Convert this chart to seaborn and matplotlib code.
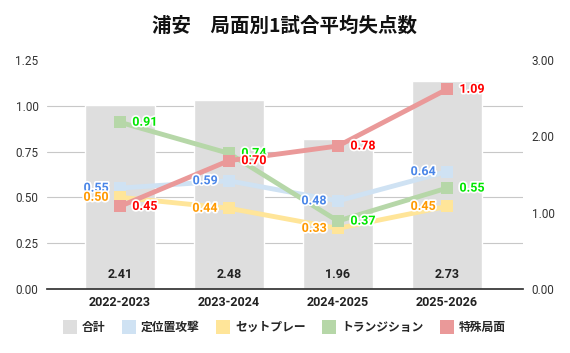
import numpy as np
import pandas as pd
import matplotlib
matplotlib.use("Agg")
import matplotlib.pyplot as plt
import matplotlib.patheffects as pe
from matplotlib.lines import Line2D
import seaborn as sns

# --- DATA ---
SEASONS = ["2022-2023", "2023-2024", "2024-2025", "2025-2026"]
TOTAL = [2.41, 2.48, 1.96, 2.73]
POSITIONAL = [0.55, 0.59, 0.48, 0.64]
SET_PIECE = [0.50, 0.44, 0.33, 0.45]
TRANSITION = [0.91, 0.74, 0.37, 0.55]
SPECIAL = [0.45, 0.70, 0.78, 1.09]

SERIES_NAMES = ["定位置攻撃", "セットプレー", "トランジション", "特殊局面"]
SERIES_VALUES = [POSITIONAL, SET_PIECE, TRANSITION, SPECIAL]
LINE_COLORS = ["#cfe2f3", "#ffe599", "#b6d7a8", "#ea9999"]
LABEL_COLORS = ["#4a86e8", "#ff9900", "#00e600", "#ff0000"]
LABEL_SIDE = ["left", "left", "right", "right"]
BAR_COLOR = "#dedede"

sns.set_theme(style="white")
plt.rcParams["font.family"] = ["Roboto", "Noto Sans CJK JP", "DejaVu Sans"]

fig = plt.figure(figsize=(5.7, 3.53), dpi=100)
ax = fig.add_axes([0.082, 0.182, 0.836, 0.648])

# bars (合計) on the right-hand scale
bars_df = pd.DataFrame({"season": SEASONS, "total": TOTAL})
sns.barplot(data=bars_df, x="season", y="total", color=BAR_COLOR, width=0.64,
            saturation=1, ax=ax, zorder=2)
ax.set_ylim(0, 3.0)
ax.set_xlim(-0.67, 3.7)
ax.set_yticks(np.linspace(0, 3, 6), minor=True)
ax.grid(True, which="minor", axis="y", color="#c8c8c8", linewidth=0.8, zorder=0)
ax.grid(False, which="major")
ax.set_axisbelow(True)
for i, v in enumerate(TOTAL):
    ax.text(i, 0.1, f"{v:.2f}", ha="center", va="bottom", fontsize=9,
            fontweight="bold", color="#222222", zorder=3)

# lines on the left-hand scale
ax2 = ax.twinx()
long_df = pd.DataFrame({
    "season": SEASONS * len(SERIES_NAMES),
    "series": [n for n in SERIES_NAMES for _ in SEASONS],
    "value": [v for vals in SERIES_VALUES for v in vals],
})
sns.lineplot(data=long_df, x="season", y="value", hue="series",
             hue_order=SERIES_NAMES, palette=LINE_COLORS, marker="s",
             markersize=8, markeredgewidth=0, linewidth=3.5, ax=ax2,
             legend=False, sort=False)
ax2.set_ylim(0, 1.25)
ax2.set_xlim(-0.67, 3.7)
ax2.grid(False)

# swap tick sides: lines scale on left, bars scale on right
ax.yaxis.tick_right()
ax.set_yticks([0, 1, 2, 3])
ax.set_yticklabels(["0.00", "1.00", "2.00", "3.00"])
ax2.yaxis.tick_left()
ax2.set_yticks([0, 0.25, 0.5, 0.75, 1.0, 1.25])
ax2.set_yticklabels([f"{t:.2f}" for t in [0, 0.25, 0.5, 0.75, 1.0, 1.25]])

stroke = [pe.withStroke(linewidth=2.5, foreground="white")]
for vals, col, side in zip(SERIES_VALUES, LABEL_COLORS, LABEL_SIDE):
    for i, v in enumerate(vals):
        dx = -8 if side == "left" else 9
        ax2.annotate(f"{v:.2f}", (i, v), xytext=(dx, 0), textcoords="offset points",
                     ha="right" if side == "left" else "left", va="center",
                     fontsize=9, fontweight="bold", color=col, path_effects=stroke)

for a in (ax, ax2):
    a.set_xlabel("")
    a.set_ylabel("")
    for s in ["top", "left", "right"]:
        a.spines[s].set_visible(False)
    a.spines["bottom"].set_color("#333333")
    a.tick_params(axis="both", which="both", length=0, labelsize=8.5,
                  colors="#333333", pad=6)
ax2.spines["bottom"].set_visible(False)
ax.tick_params(axis="x", pad=5)
for lab in ax.get_xticklabels():
    lab.set_fontweight("bold")
    lab.set_fontsize(9)
    lab.set_color("#222222")

fig.suptitle("浦安　局面別1試合平均失点数", x=0.5, y=0.955, fontsize=14,
             fontweight="bold", color="#111111",
             family=["Noto Sans CJK JP", "DejaVu Sans"])

handles = [Line2D([], [], marker="s", linestyle="none", markersize=10,
                  markerfacecolor=c, markeredgewidth=0)
           for c in [BAR_COLOR] + LINE_COLORS]
fig.legend(handles, ["合計"] + SERIES_NAMES, loc="center", bbox_to_anchor=(0.5, 0.072),
           ncol=5, frameon=False, handletextpad=0.5, columnspacing=1.5,
           handlelength=1.0, prop={"weight": "bold", "size": 8.5})

fig.savefig("out.png", dpi=100)
